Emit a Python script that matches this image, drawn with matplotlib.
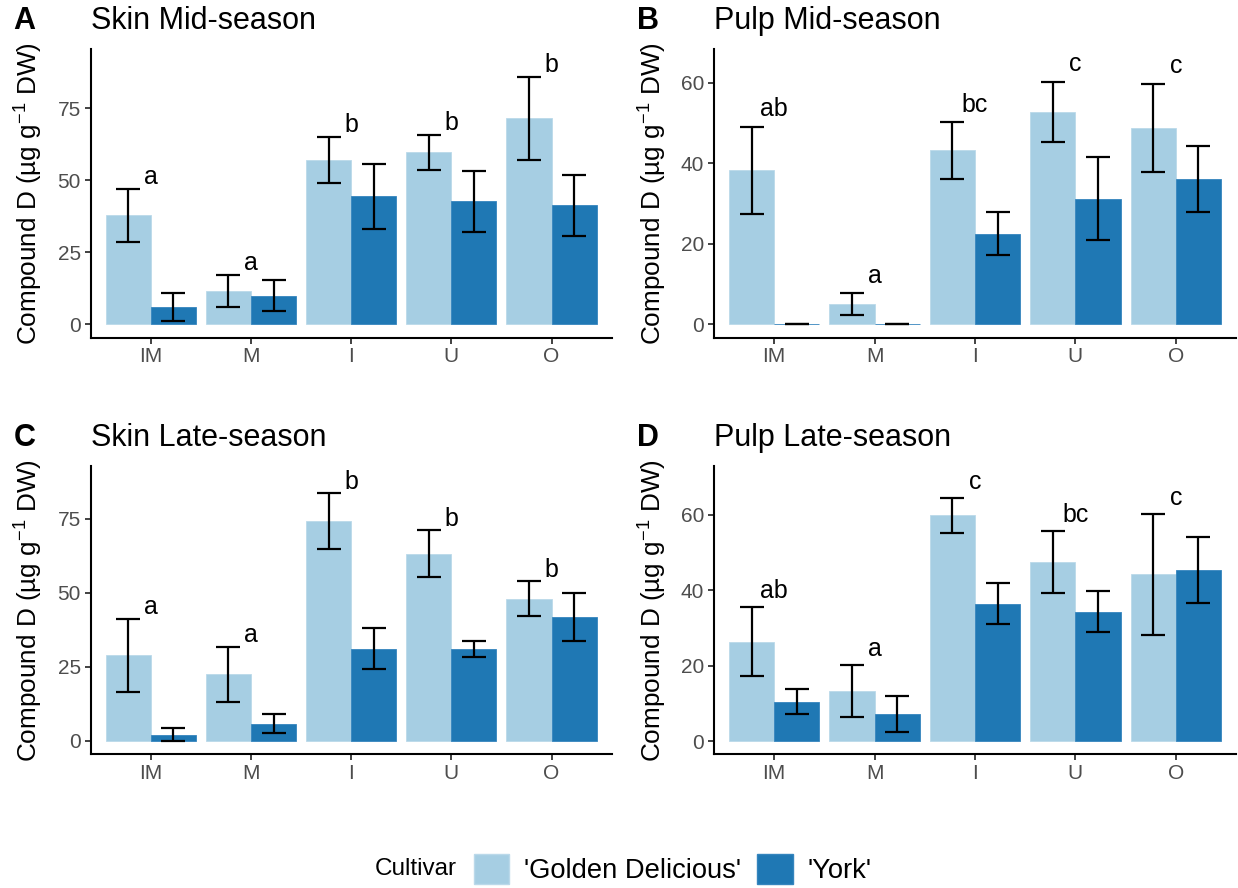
import numpy as np
import matplotlib
matplotlib.use('Agg')
import matplotlib.pyplot as plt
from matplotlib.patches import Patch

plt.rcParams['font.family'] = ['Liberation Sans', 'DejaVu Sans']
plt.rcParams['mathtext.fontset'] = 'custom'
plt.rcParams['mathtext.rm'] = 'Liberation Sans'
plt.rcParams['mathtext.it'] = 'Liberation Sans:italic'
plt.rcParams['mathtext.default'] = 'regular'

W, H = 1238, 888

categories = ['IM', 'M', 'I', 'U', 'O']
cultivars = ["'Golden Delicious'", "'York'"]
tags = ['A', 'B', 'C', 'D']
titles = ['Skin Mid-season', 'Pulp Mid-season', 'Skin Late-season', 'Pulp Late-season']

# means and standard errors
gd_skin_mid = [37.8, 11.5, 57.2, 59.7, 71.5]
gd_skin_mid_se = [9.3, 5.5, 8.0, 6.0, 14.5]
york_skin_mid = [5.9, 10.0, 44.4, 42.7, 41.3]
york_skin_mid_se = [4.8, 5.3, 11.2, 10.5, 10.5]

gd_pulp_mid = [38.2, 5.0, 43.2, 52.7, 48.7]
gd_pulp_mid_se = [10.9, 2.7, 7.0, 7.5, 11.0]
york_pulp_mid = [0.0, 0.0, 22.5, 31.2, 36.1]
york_pulp_mid_se = [0.0, 0.0, 5.3, 10.4, 8.3]

gd_skin_late = [28.9, 22.5, 74.2, 63.3, 48.1]
gd_skin_late_se = [12.4, 9.4, 9.5, 7.9, 5.8]
york_skin_late = [2.1, 5.9, 31.2, 31.0, 42.0]
york_skin_late_se = [2.2, 3.1, 7.0, 2.6, 8.1]

gd_pulp_late = [26.4, 13.4, 59.9, 47.6, 44.2]
gd_pulp_late_se = [9.1, 6.9, 4.7, 8.2, 16.0]
york_pulp_late = [10.5, 7.2, 36.5, 34.3, 45.4]
york_pulp_late_se = [3.4, 4.8, 5.4, 5.4, 8.8]

letters_skin_mid = ['a', 'a', 'b', 'b', 'b']
letters_pulp_mid = ['ab', 'a', 'bc', 'c', 'c']
letters_skin_late = ['a', 'a', 'b', 'b', 'b']
letters_pulp_late = ['ab', 'a', 'c', 'bc', 'c']

panels = [
    (gd_skin_mid, gd_skin_mid_se, york_skin_mid, york_skin_mid_se, letters_skin_mid),
    (gd_pulp_mid, gd_pulp_mid_se, york_pulp_mid, york_pulp_mid_se, letters_pulp_mid),
    (gd_skin_late, gd_skin_late_se, york_skin_late, york_skin_late_se, letters_skin_late),
    (gd_pulp_late, gd_pulp_late_se, york_pulp_late, york_pulp_late_se, letters_pulp_late),
]

ylims = [(-4.65, 95.5), (-3.35, 68.3), (-4.5, 92.9), (-3.5, 73.0)]
yticks = [[0, 25, 50, 75], [0, 20, 40, 60], [0, 25, 50, 75], [0, 20, 40, 60]]
letter_gap = [1.7, 2.6, 1.5, 2.4]

light, dark = '#A6CEE3', '#1F78B4'
ylabel = r'Compound D (µg g$^{-1}$ DW)'

# panel boxes in pixels: left, right, top, bottom
boxes = [(90.7, 611.7, 49.3, 337.7), (714, 1236, 49.3, 337.7),
         (90.7, 611.7, 465.9, 754.3), (714, 1236, 465.9, 754.3)]

fig = plt.figure(figsize=(W / 100, H / 100), dpi=100)
x = np.arange(len(categories))
bw = 0.45

for i, (gd, gd_se, yk, yk_se, letters) in enumerate(panels):
    l, r, t, b = boxes[i]
    ax = fig.add_axes([l / W, 1 - b / H, (r - l) / W, (b - t) / H])

    ax.bar(x - bw / 2, gd, width=bw, color=light, edgecolor='#BBD9EA', linewidth=0.6)
    ax.bar(x + bw / 2, yk, width=bw, color=dark, edgecolor='#3585BE', linewidth=0.6)
    ax.errorbar(x - bw / 2, gd, yerr=gd_se, fmt='none', ecolor='black',
                elinewidth=1.6, capsize=8.6, capthick=1.6)
    ax.errorbar(x + bw / 2, yk, yerr=yk_se, fmt='none', ecolor='black',
                elinewidth=1.6, capsize=8.6, capthick=1.6)

    for j, lab in enumerate(letters):
        ax.text(x[j], gd[j] + gd_se[j] + letter_gap[i], lab, ha='center',
                va='baseline', fontsize=18)

    ax.set_xlim(-0.6, len(categories) - 0.4)
    ax.set_ylim(*ylims[i])
    ax.set_xticks(x)
    ax.set_xticklabels(categories)
    ax.set_yticks(yticks[i])
    ax.tick_params(labelsize=15, labelcolor='#4D4D4D', color='#333333',
                   length=4, width=1.3, pad=3)
    for s in ['top', 'right']:
        ax.spines[s].set_visible(False)
    for s in ['left', 'bottom']:
        ax.spines[s].set_linewidth(1.5)

    ax.set_ylabel(ylabel, fontsize=18.8)
    ax.yaxis.set_label_coords(-0.087, 0.5)
    ax.set_title(titles[i], loc='left', fontsize=22, pad=14.4)
    fig.text((l - 77.4) / W, 1 - (t - 20) / H, tags[i], fontsize=22,
             fontweight='bold', va='baseline')

handles = [Patch(facecolor=light, edgecolor='#BBD9EA'),
           Patch(facecolor=dark, edgecolor='#3585BE')]
fig.legend(handles, cultivars, loc='center left',
           bbox_to_anchor=(473.5 / W, 1 - 869 / H), ncol=2, frameon=False,
           fontsize=19.7, handlelength=1.31, handleheight=1.31,
           handletextpad=0.54, columnspacing=0.58, borderpad=0, borderaxespad=0)
fig.text(457 / W, 1 - 869 / H, 'Cultivar', ha='right', va='center', fontsize=17.5)

fig.savefig('out.png', dpi=100)
